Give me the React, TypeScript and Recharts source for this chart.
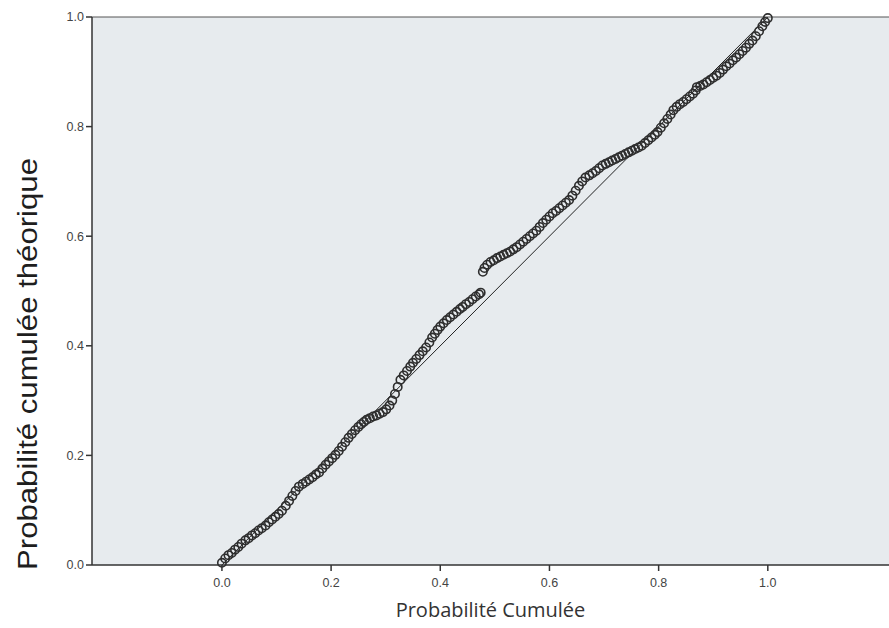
import {
  ScatterChart,
  Scatter,
  XAxis,
  YAxis,
  ReferenceLine,
  ReferenceArea,
} from "recharts";

const observedCum = [
  0.0, 0.006, 0.012, 0.018, 0.024, 0.03, 0.036,
  0.043, 0.049, 0.055, 0.061, 0.067, 0.073,
  0.08, 0.086, 0.092, 0.098, 0.104, 0.11,
  0.117, 0.123, 0.129, 0.135, 0.141,
  0.148, 0.154, 0.16, 0.166, 0.172, 0.178,
  0.184, 0.19, 0.196, 0.202, 0.208, 0.214,
  0.22, 0.226, 0.232, 0.238, 0.244,
  0.25, 0.255, 0.26, 0.265,
  0.271, 0.277, 0.283, 0.289, 0.295, 0.301, 0.307,
  0.312, 0.317, 0.322, 0.327,
  0.333, 0.339, 0.345, 0.35,
  0.356, 0.362, 0.368, 0.374,
  0.38, 0.385, 0.39, 0.395,
  0.4, 0.406, 0.412,
  0.418, 0.424, 0.43, 0.436, 0.441,
  0.447, 0.453, 0.459, 0.465, 0.471, 0.474,
  0.478, 0.481,
  0.486, 0.492, 0.498, 0.504,
  0.51, 0.516, 0.522, 0.528, 0.534, 0.54,
  0.546, 0.552, 0.558, 0.564, 0.57, 0.576,
  0.582, 0.588, 0.594, 0.6, 0.606,
  0.612, 0.618, 0.624, 0.63, 0.636,
  0.642, 0.648, 0.654, 0.66, 0.666,
  0.673, 0.679, 0.685, 0.691, 0.697,
  0.703, 0.709, 0.715, 0.721, 0.727, 0.733,
  0.739, 0.745, 0.751, 0.757, 0.763, 0.769,
  0.775, 0.781, 0.787, 0.793, 0.798,
  0.804, 0.81, 0.816, 0.822, 0.827,
  0.833, 0.839, 0.845, 0.851, 0.857, 0.863,
  0.868, 0.87,
  0.876, 0.882, 0.888, 0.894, 0.9, 0.906, 0.912,
  0.918, 0.924, 0.93, 0.936, 0.942,
  0.948, 0.954, 0.96, 0.966, 0.972,
  0.978, 0.984, 0.99, 0.995, 1.0,
];

// theoretical cumulative probability (y)
const theoreticalCum = [
  0.004, 0.012, 0.018, 0.022, 0.028, 0.033, 0.039,
  0.045, 0.049, 0.054, 0.058, 0.063, 0.067,
  0.072, 0.078, 0.083, 0.088, 0.093, 0.099,
  0.108, 0.117, 0.126, 0.135, 0.143,
  0.148, 0.152, 0.156, 0.16, 0.165, 0.169,
  0.176, 0.183, 0.189, 0.195, 0.201, 0.208,
  0.216, 0.224, 0.232, 0.239, 0.246,
  0.252, 0.257, 0.261, 0.265,
  0.268, 0.271, 0.273, 0.276, 0.279, 0.284, 0.291,
  0.3, 0.312, 0.325, 0.338,
  0.346, 0.354, 0.362, 0.369,
  0.376, 0.383, 0.39, 0.397,
  0.406, 0.415, 0.422, 0.429,
  0.435, 0.441, 0.447,
  0.452, 0.457, 0.462, 0.467, 0.471,
  0.476, 0.48, 0.485, 0.49, 0.494, 0.497,
  0.535, 0.542,
  0.548, 0.553, 0.556, 0.56,
  0.563, 0.566, 0.569, 0.572, 0.576, 0.58,
  0.585, 0.59, 0.595, 0.6, 0.605, 0.61,
  0.617, 0.624, 0.63, 0.636, 0.642,
  0.646, 0.651, 0.656, 0.661, 0.666,
  0.674, 0.683, 0.692, 0.7, 0.707,
  0.711, 0.715, 0.719, 0.724, 0.729,
  0.732, 0.735, 0.738, 0.741, 0.744, 0.747,
  0.75, 0.753, 0.756, 0.759, 0.762, 0.765,
  0.77, 0.775, 0.78, 0.785, 0.79,
  0.798, 0.806, 0.814, 0.822, 0.83,
  0.836, 0.841, 0.845, 0.85, 0.855, 0.86,
  0.866, 0.872,
  0.874, 0.877, 0.881, 0.885, 0.889, 0.893, 0.898,
  0.904, 0.91, 0.915, 0.921, 0.926,
  0.932, 0.938, 0.944, 0.951, 0.957,
  0.965, 0.974, 0.983, 0.991, 0.998,
];

const ticks = [0, 0.2, 0.4, 0.6, 0.8, 1.0];

const points = observedCum.map((x, i) => ({ x, y: theoreticalCum[i] }));

const fmt = (v: number) => v.toFixed(1);

function Ring(props: any) {
  const { cx, cy } = props;
  if (cx == null || cy == null) return null;
  return <circle cx={cx} cy={cy} r={4.2} fill="none" stroke="#2e2e2e" strokeWidth={1.6} />;
}

function YTitle() {
  return (
    <text
      x={0}
      y={0}
      transform="translate(37, 364) rotate(-90)"
      textAnchor="middle"
      fontSize={27}
      textLength={412}
      lengthAdjust="spacingAndGlyphs"
      fill="#1e1e1e"
      fontFamily="Liberation Sans, Arial, sans-serif"
    >
      Probabilité cumulée théorique
    </text>
  );
}

export default function App() {
  const tickStyle = { fontSize: 12.5, fill: "#444", fontFamily: "Liberation Sans, Arial, sans-serif" };
  return (
    <div style={{ position: "absolute", left: 0, top: 0, width: 889, height: 628, background: "#fff" }}>
      <ScatterChart
        width={889}
        height={628}
        margin={{ top: 17, right: 0, bottom: 0, left: 32 }}
      >
        <ReferenceArea x1={-0.238} x2={1.222} y1={0} y2={1} fill="#e7ebee" fillOpacity={1} stroke="none" ifOverflow="visible" />
        <XAxis
          type="number"
          dataKey="x"
          domain={[-0.238, 1.222]}
          ticks={ticks}
          tickFormatter={fmt}
          allowDataOverflow
          height={63}
          tick={{ ...tickStyle, dy: 5 }}
          tickSize={6}
          stroke="#333"
          strokeWidth={1.5}
          tickLine={{ stroke: "#333", strokeWidth: 1.5 }}
          label={{
            value: "Probabilité Cumulée",
            position: "insideBottom",
            offset: 11,
            style: { fontSize: 20, fill: "#333", fontFamily: "Open Sans, sans-serif" },
          }}
        />
        <YAxis
          type="number"
          dataKey="y"
          domain={[0, 1]}
          ticks={ticks}
          tickFormatter={fmt}
          width={60}
          tick={tickStyle}
          tickSize={6}
          stroke="#333"
          strokeWidth={1.5}
          tickLine={{ stroke: "#333", strokeWidth: 1.5 }}
          label={<YTitle />}
        />
        <ReferenceLine y={1} stroke="#555" strokeWidth={1} />
        <ReferenceLine
          segment={[{ x: 0, y: 0 }, { x: 1, y: 1 }]}
          stroke="#222"
          strokeWidth={1}
        />
        <Scatter data={points} shape={<Ring />} isAnimationActive={false} />
      </ScatterChart>
    </div>
  );
}
